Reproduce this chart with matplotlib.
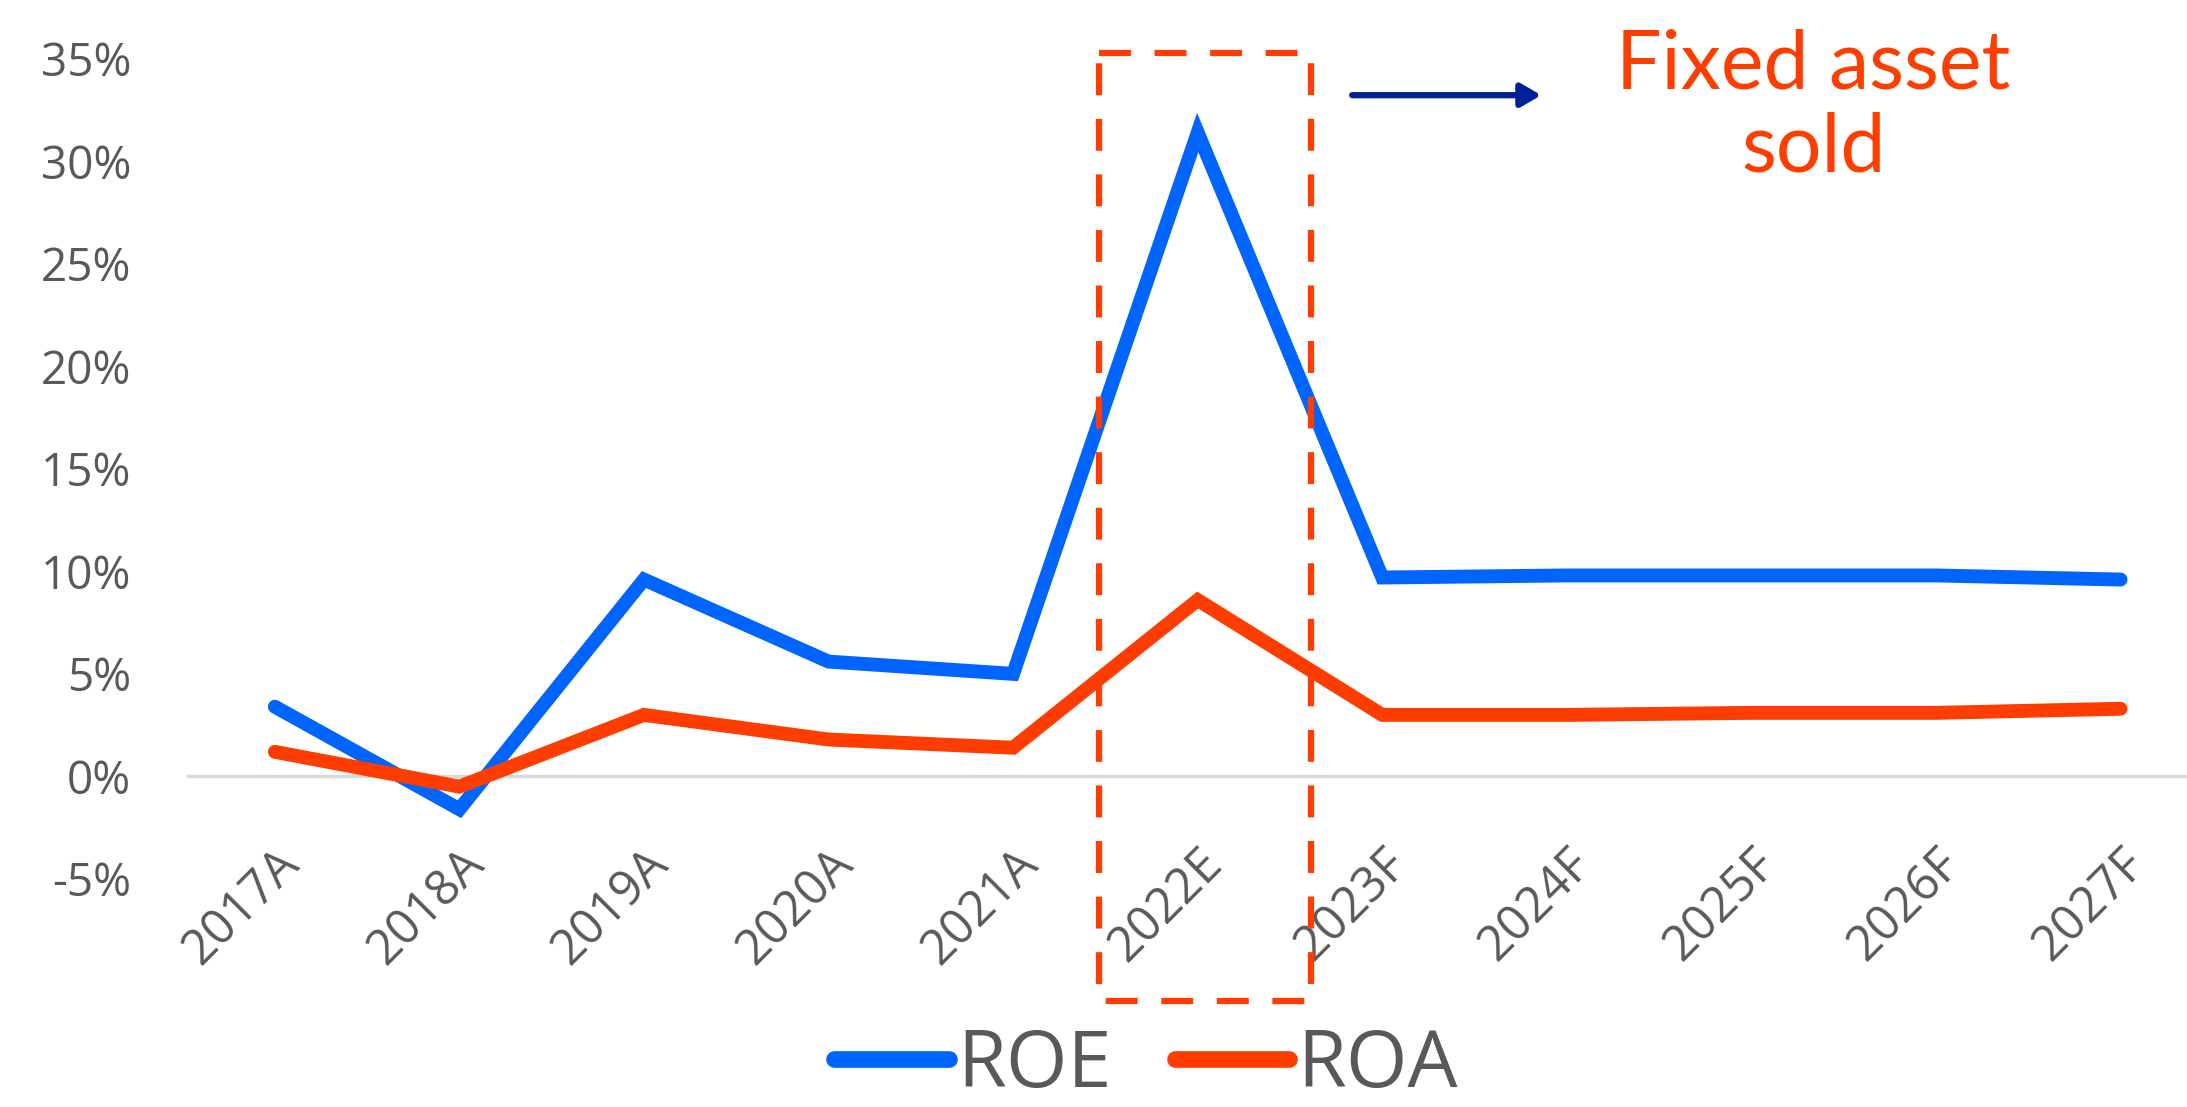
import matplotlib.pyplot as plt
from matplotlib.patches import FancyArrowPatch
from matplotlib.lines import Line2D
from matplotlib.ticker import FuncFormatter

years = ['2017A', '2018A', '2019A', '2020A', '2021A', '2022E',
         '2023F', '2024F', '2025F', '2026F', '2027F']
roe = [3.4, -1.6, 9.6, 5.6, 5.0, 31.4, 9.7, 9.8, 9.8, 9.8, 9.6]
roa = [1.2, -0.5, 3.0, 1.8, 1.4, 8.6, 3.0, 3.0, 3.1, 3.1, 3.3]

blue = '#0064FF'
red = '#FF3D00'
grey = '#595959'

plt.rcParams['font.family'] = ['Open Sans', 'DejaVu Sans']
plt.rcParams['lines.scale_dashes'] = False

fig = plt.figure(figsize=(21.87, 11.07), dpi=100)
ax = fig.add_axes([0.086, 0.206, 0.914, 0.741])

x = list(range(len(years)))
ax.plot(x, roe, color=blue, lw=10, solid_capstyle='round', solid_joinstyle='miter', zorder=3)
ax.plot(x, roa, color=red, lw=10, solid_capstyle='round', solid_joinstyle='miter', zorder=3)

for s in ['top', 'right', 'left']:
    ax.spines[s].set_visible(False)
# the category axis sits on the 0% line
ax.spines['bottom'].set_position(('data', 0))
ax.spines['bottom'].set_color('#D9D9D9')
ax.spines['bottom'].set_linewidth(2.5)
ax.spines['bottom'].set_zorder(1)

ax.set_xlim(-0.47, 10.36)
ax.set_ylim(-5, 35)
ax.set_yticks(range(-5, 36, 5))
ax.yaxis.set_major_formatter(FuncFormatter(lambda v, p: '{:.0f}%'.format(v)))
ax.set_xticks(x)
ax.set_xticklabels(years, rotation=45, ha='right', va='top', rotation_mode='anchor')

ax.tick_params(axis='y', length=0, pad=41, labelsize=33, labelcolor=grey)
ax.tick_params(axis='x', length=0, pad=45, labelsize=35, labelcolor=grey)

# dashed box around 2022E
bl, br, bb, bt = 0.5025, 0.5995, 0.096, 0.952
box = Line2D([bl, br, br, bl, bl], [bt, bt, bb, bb, bt], transform=fig.transFigure,
             color=red, lw=4.5, dashes=(23, 17), dash_capstyle='butt', zorder=5)
fig.add_artist(box)

arrow = FancyArrowPatch((0.617, 0.914), (0.706, 0.914), transform=fig.transFigure,
                        arrowstyle='-|>,head_length=12,head_width=7', mutation_scale=1,
                        color='#00209A', lw=4.5)
fig.add_artist(arrow)

fig.text(0.829, 0.903, 'Fixed asset\nsold', color=red, fontsize=58, family='Lato',
         ha='center', va='center', linespacing=1.15)

handles = [Line2D([], [], color=blue, lw=12, solid_capstyle='round'),
           Line2D([], [], color=red, lw=12, solid_capstyle='round')]
fig.legend(handles, ['ROE', 'ROA'], loc='center', bbox_to_anchor=(0.524, 0.037),
           ncol=2, frameon=False, fontsize=57, handlelength=1.45,
           handletextpad=0.1, columnspacing=0.8, labelcolor=grey,
           borderpad=0.05)

fig.savefig('out.png', dpi=100)
